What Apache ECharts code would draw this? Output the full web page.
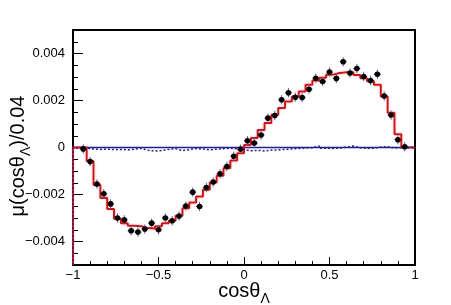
<!DOCTYPE html>
<html><head><meta charset="utf-8">
<script src="https://cdn.jsdelivr.net/npm/echarts@6/dist/echarts.min.js"></script>
<style>html,body{margin:0;padding:0;background:#fff}#c{width:451px;height:305px}</style>
</head><body><div id="c"></div>
<script>
// 50 bins of width 0.04 on [-1, 1]
const binCenters = [-0.98,-0.94,-0.90,-0.86,-0.82,-0.78,-0.74,-0.70,-0.66,-0.62,-0.58,-0.54,-0.50,-0.46,-0.42,-0.38,-0.34,-0.30,-0.26,-0.22,-0.18,-0.14,-0.10,-0.06,-0.02,
  0.02,0.06,0.10,0.14,0.18,0.22,0.26,0.30,0.34,0.38,0.42,0.46,0.50,0.54,0.58,0.62,0.66,0.70,0.74,0.78,0.82,0.86,0.90,0.94,0.98];
const binHalfWidth = 0.02;
// red histogram (model)
const redHist = [0,0,-0.00057,-0.0016,-0.00215,-0.00262,-0.00303,-0.00322,-0.00333,-0.00335,-0.00343,-0.00345,-0.00335,-0.00322,-0.00312,-0.0029,-0.00258,-0.00234,-0.00208,-0.0018,-0.00149,-0.0012,-0.00088,-0.00055,-0.00024,
  0.00011,0.0004,0.00075,0.00104,0.00139,0.00168,0.00196,0.00217,0.00238,0.00267,0.00285,0.00297,0.0031,0.00317,0.0032,0.0032,0.00308,0.00295,0.00282,0.00267,0.00217,0.00148,0.00056,0,0];
// blue dotted histogram
const blueHist = [-0.00002,-0.00003,-0.00006,-0.00008,-0.00007,-0.00009,-0.00008,-0.0001,-0.00007,-0.00004,-0.00012,-0.00015,-0.00013,-0.00008,-0.00005,-0.00013,-0.00009,-0.00004,-0.00006,-0.0001,-0.00007,-0.00005,-0.00003,-0.00006,-0.00009,
  -0.00014,-0.00012,-0.00015,-0.00011,-0.0001,-0.00008,-0.00006,-0.00004,-0.00002,-0.00001,0.00006,-0.00003,-0.00004,-0.00002,0.00001,0.00006,-0.00001,-0.00004,-0.00003,0.00002,0.00003,-0.00002,-0.00001,0,0];
// data points
const pointX = [-0.94,-0.90,-0.86,-0.82,-0.78,-0.74,-0.70,-0.66,-0.62,-0.58,-0.54,-0.50,-0.46,-0.42,-0.38,-0.34,-0.30,-0.26,-0.22,-0.18,-0.14,-0.10,-0.06,-0.02,
  0.02,0.06,0.10,0.14,0.18,0.22,0.26,0.30,0.34,0.38,0.42,0.46,0.50,0.54,0.58,0.62,0.66,0.70,0.74,0.78,0.82,0.86,0.90,0.94];
const pointY = [-0.00006,-0.0006,-0.00155,-0.00197,-0.0024,-0.003,-0.00308,-0.00354,-0.0036,-0.00347,-0.00322,-0.0035,-0.003,-0.00312,-0.00292,-0.00249,-0.0019,-0.00251,-0.0017,-0.00147,-0.00112,-0.00081,-0.00037,-0.00007,
  0.00029,0.00019,0.00053,0.00125,0.00136,0.00203,0.00233,0.00214,0.00213,0.00248,0.00295,0.00281,0.00321,0.00294,0.00365,0.00317,0.00336,0.00302,0.00285,0.00312,0.00219,0.00138,0.00033,0.00003];
const pointErr = [0.0002,0.0002,0.0002,0.0002,0.0002,0.0002,0.0002,0.0002,0.0002,0.0002,0.0002,0.0002,0.0002,0.0002,0.0002,0.0002,0.0002,0.0002,0.0002,0.0002,0.0002,0.0002,0.0002,0.0002,
  0.0002,0.0002,0.0002,0.0002,0.0002,0.0002,0.0002,0.0002,0.0002,0.0002,0.0002,0.0002,0.0002,0.0002,0.0002,0.0002,0.0002,0.0002,0.0002,0.0002,0.0002,0.0002,0.0002,0.0002];
const xTicks = [-1,-0.5,0,0.5,1];
const yTicks = [-0.004,-0.002,0,0.002,0.004];
const xMin = -1, xMax = 1, yMin = -0.005, yMax = 0.005;

function stepData(vals) {
  const d = [[binCenters[0] - binHalfWidth, yMin]];
  for (let i = 0; i < vals.length; i++) {
    d.push([binCenters[i] - binHalfWidth, vals[i]]);
    d.push([binCenters[i] + binHalfWidth, vals[i]]);
  }
  return d;
}
const FONT = 'Liberation Sans';
const minus = '\u2212';
function fmtY(v){ if (Math.abs(v) < 1e-12) return '0'; return (v<0?minus:'') + Math.abs(v).toFixed(3); }
function fmtX(v){ if (Math.abs(v) < 1e-12) return '0'; return (v<0?minus:'') + String(Math.abs(v)); }

const chart = echarts.init(document.getElementById('c'), null, {renderer:'canvas'});
const pts = pointX.map((x,i)=>[x, pointY[i], pointErr[i], binHalfWidth]);
chart.setOption({
  animation: false,
  backgroundColor: '#fff',
  grid: {left:73, right:36, top:30, bottom:40, show:true, borderColor:'#000', borderWidth:2, backgroundColor:'transparent'},
  xAxis: {
    type:'value', min:xMin, max:xMax, interval:0.5,
    axisLine:{show:true, onZero:false, lineStyle:{color:'#000', width:2}},
    axisTick:{show:true, inside:true, length:8, lineStyle:{color:'#000', width:1}},
    minorTick:{show:true, splitNumber:5, length:4, lineStyle:{color:'#000', width:1}},
    splitLine:{show:false}, minorSplitLine:{show:false},
    axisLabel:{formatter:fmtX, fontFamily:FONT, fontSize:13, color:'#000', margin:4}
  },
  yAxis: [{
    type:'value', min:yMin, max:yMax, interval:0.001, position:'left',
    axisLine:{show:true, onZero:false, lineStyle:{color:'#000', width:2}},
    axisTick:{show:true, inside:true, length:10, customValues:yTicks, lineStyle:{color:'#000', width:1}},
    splitLine:{show:false},
    axisLabel:{customValues:yTicks, formatter:fmtY, fontFamily:FONT, fontSize:13, color:'#000', margin:8}
  },{
    type:'value', min:yMin, max:yMax, interval:0.0005, position:'left',
    axisLine:{show:false, onZero:false},
    axisTick:{show:true, inside:true, length:5, lineStyle:{color:'#000', width:1}},
    splitLine:{show:false}, axisLabel:{show:false}
  }],
  graphic: [
    {type:'text', x:244, y:291, style:{text:'{a|cos\u03b8}{s|\u039b}', align:'center', verticalAlign:'middle', fill:'#000',
      rich:{a:{fontSize:20, fontFamily:FONT, fill:'#000'}, s:{fontSize:14, fontFamily:FONT, fill:'#000', padding:[16,0,0,0]}}}},
    {type:'text', x:18, y:156, rotation:Math.PI/2, style:{text:'{a|\u03bc(cos\u03b8}{s|\u039b}{a|)/0.04}', align:'center', verticalAlign:'middle', fill:'#000',
      rich:{a:{fontSize:20, fontFamily:FONT, fill:'#000'}, s:{fontSize:14, fontFamily:FONT, fill:'#000', padding:[16,0,0,0]}}}}
  ],
  series: [
    {type:'line', data:[[xMin,0],[xMax,0]], showSymbol:false, symbol:'none', lineStyle:{color:'#1c1caa', width:1.5}, z:2, silent:true},
    {type:'line', data:stepData(redHist), showSymbol:false, symbol:'none', lineStyle:{color:'#ff0000', width:2}, z:3, silent:true},
    {type:'line', data:stepData(blueHist), showSymbol:false, symbol:'none', lineStyle:{color:'#1c1caa', width:1.5, type:[2,2]}, z:4, silent:true},
    {type:'custom', data:pts, z:5, silent:true,
      renderItem: function(params, api){
        const x = api.value(0), y = api.value(1), ey = api.value(2), ex = api.value(3);
        const c = api.coord([x,y]);
        const t = api.coord([x,y+ey]), b = api.coord([x,y-ey]);
        const l = api.coord([x-ex,y]), r = api.coord([x+ex,y]);
        return {type:'group', children:[
          {type:'line', shape:{x1:c[0], y1:t[1], x2:c[0], y2:b[1]}, style:{stroke:'#5a5ad8', lineWidth:1}},
          {type:'line', shape:{x1:l[0], y1:c[1], x2:r[0], y2:c[1]}, style:{stroke:'#222', lineWidth:1}},
          {type:'circle', shape:{cx:c[0], cy:c[1], r:2.8}, style:{fill:'#000'}}
        ]};
      }}
  ]
});
</script></body></html>
